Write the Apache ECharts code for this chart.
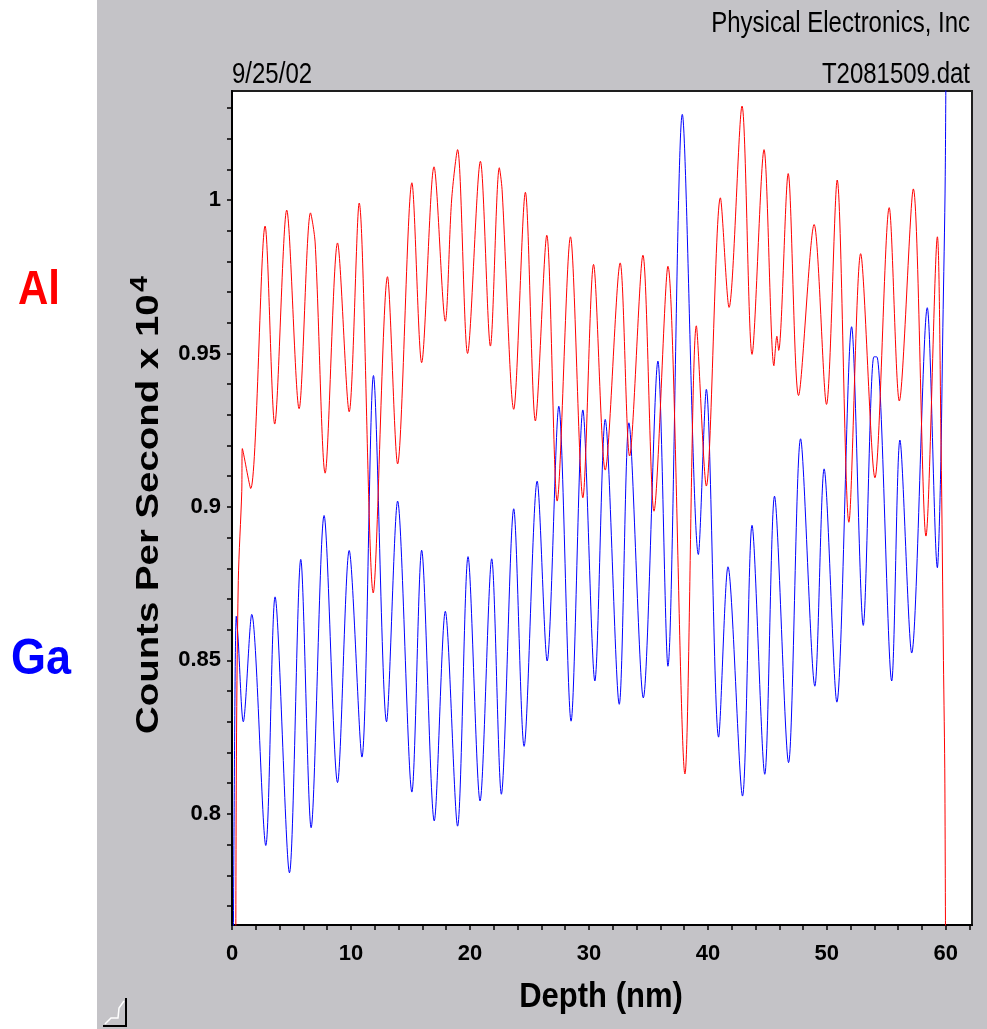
<!DOCTYPE html>
<html>
<head>
<meta charset="utf-8">
<script src="https://cdn.jsdelivr.net/npm/echarts@6/dist/echarts.min.js"></script>
<style>
  html, body { margin: 0; padding: 0; background: #ffffff; }
  #chart { width: 987px; height: 1029px; background: linear-gradient(to right, #ffffff 0px, #ffffff 97px, #c4c3c7 97px, #c4c3c7 100%); }
</style>
</head>
<body>
<div id="chart"></div>
<script>
// ---- Data ----
const alDepth = [0.3, 0.36, 0.53, 0.82, 0.87, 1.57, 2.78, 3.59, 4.6, 5.64, 6.6, 6.99, 7.83, 8.87, 9.85, 10.69, 11.87, 13.07, 13.92, 15.12, 15.94, 16.98, 17.93, 18.46, 18.96, 19.8, 20.88, 21.72, 22.47, 22.7, 23.68, 24.66, 25.5, 26.46, 27.33, 28.45, 29.49, 30.39, 31.37, 32.63, 33.42, 34.54, 35.47, 36.64, 38.07, 39.03, 39.87, 41.05, 41.78, 42.87, 43.71, 44.72, 45.55, 45.8, 45.95, 46.75, 47.62, 48.93, 49.97, 50.87, 51.85, 52.84, 54.04, 55.24, 56.09, 57.27, 58.33, 59.29, 59.6, 59.8, 59.92, 60.02];
const alCounts = [0.70, 0.811, 0.876, 0.905, 0.919, 0.906, 0.9915, 0.927, 0.9967, 0.932, 0.9958, 0.986, 0.911, 0.986, 0.931, 0.999, 0.872, 0.975, 0.914, 1.0056, 0.947, 1.0108, 0.9605, 1.0, 1.0164, 0.950, 1.0126, 0.9524, 1.0105, 1.0034, 0.9318, 1.0025, 0.928, 0.9885, 0.9019, 0.988, 0.903, 0.979, 0.912, 0.9795, 0.9166, 0.982, 0.8986, 0.9784, 0.813, 0.959, 0.9068, 1.0007, 0.965, 1.0306, 0.9497, 1.0164, 0.946, 0.9556, 0.951, 1.0086, 0.9363, 0.992, 0.9334, 1.0065, 0.895, 0.9825, 0.9095, 0.9975, 0.9345, 1.0036, 0.8905, 0.988, 0.92, 0.85, 0.81, 0.70];

const gaDepth = [0.05, 0.17, 0.36, 0.5, 0.95, 1.66, 2.84, 3.62, 4.83, 5.78, 6.65, 7.74, 8.87, 9.85, 10.92, 11.89, 12.99, 13.92, 15.12, 15.94, 17.0, 17.93, 18.96, 19.84, 20.85, 21.83, 22.64, 23.68, 24.55, 25.65, 26.49, 27.47, 28.5, 29.49, 30.5, 31.37, 32.55, 33.36, 34.57, 35.8, 36.64, 37.85, 39.2, 39.87, 40.9, 41.69, 42.91, 43.71, 44.78, 45.6, 46.78, 47.79, 48.99, 49.77, 50.84, 52.08, 53.06, 53.95, 54.2, 55.45, 56.14, 57.13, 58.44, 59.29, 59.55, 59.75, 59.95, 60.05];
const gaCounts = [0.70, 0.7955, 0.8644, 0.858, 0.830, 0.865, 0.7897, 0.8707, 0.7808, 0.8829, 0.7955, 0.8972, 0.8102, 0.8858, 0.8185, 0.9428, 0.830, 0.9019, 0.8071, 0.8859, 0.7977, 0.866, 0.796, 0.8838, 0.8042, 0.8831, 0.8064, 0.8994, 0.822, 0.9084, 0.8498, 0.9328, 0.8302, 0.9316, 0.8433, 0.9285, 0.8357, 0.9274, 0.8378, 0.9475, 0.8481, 1.0279, 0.8845, 0.9383, 0.8250, 0.8805, 0.8058, 0.894, 0.8129, 0.9035, 0.8167, 0.9222, 0.8416, 0.9124, 0.8364, 0.9587, 0.8614, 0.9489, 0.9489, 0.8433, 0.9218, 0.8524, 0.9649, 0.8802, 0.909, 0.9585, 1.0077, 1.08];

const xTickValues = [0, 2, 4, 6, 8, 10, 12, 14, 16, 18, 20, 22, 24, 26, 28, 30, 32, 34, 36, 38, 40, 42, 44, 46, 48, 50, 52, 54, 56, 58, 60, 62];
const xLabelValues = [0, 10, 20, 30, 40, 50, 60];
const yTickValues = [0.77, 0.78, 0.79, 0.80, 0.81, 0.82, 0.83, 0.84, 0.85, 0.86, 0.87, 0.88, 0.89, 0.90, 0.91, 0.92, 0.93, 0.94, 0.95, 0.96, 0.97, 0.98, 0.99, 1.00, 1.01, 1.02, 1.03];
const yLabelValues = [0.80, 0.85, 0.90, 0.95, 1.00];

const seriesNames = ['Al', 'Ga'];
const headerTexts = ['Physical Electronics, Inc', '9/25/02', 'T2081509.dat'];
const xAxisTitle = 'Depth (nm)';
const yAxisTitle = 'Counts Per Second x 10';
const yAxisTitleExp = '4';

// ---- Build ----
const zip = (xs, ys) => xs.map((x, i) => [x, ys[i]]);
const FONT = '"Liberation Sans", Arial, Helvetica, sans-serif';

const chart = echarts.init(document.getElementById('chart'), null, { renderer: 'canvas' });

const option = {
  animation: false,
  backgroundColor: 'transparent',
  grid: {
    left: 232, top: 91, right: 15, bottom: 104,
    show: true, backgroundColor: '#ffffff',
    borderColor: '#1e1e1e', borderWidth: 2
  },
  xAxis: {
    type: 'value', min: 0, max: 62.2,
    axisLine: { show: true, onZero: false, lineStyle: { color: '#000', width: 2 } },
    axisTick: { show: true, customValues: xTickValues, length: 5, inside: false, lineStyle: { color: '#000', width: 1.5 } },
    axisLabel: {
      customValues: xLabelValues, margin: 18, fontSize: 22, fontWeight: 'bold',
      color: '#000', fontFamily: FONT, formatter: v => String(Math.round(v))
    },
    splitLine: { show: false }
  },
  yAxis: {
    type: 'value', min: 0.7638, max: 1.0355,
    axisLine: { show: true, onZero: false, lineStyle: { color: '#000', width: 2 } },
    axisTick: { show: true, customValues: yTickValues, length: 5, inside: false, lineStyle: { color: '#000', width: 1.5 } },
    axisLabel: {
      customValues: yLabelValues, margin: 11, fontSize: 22, fontWeight: 'bold',
      color: '#000', fontFamily: FONT, formatter: v => String(+v.toFixed(2))
    },
    splitLine: { show: false }
  },
  series: [
    {
      name: seriesNames[1], type: 'line', data: zip(gaDepth, gaCounts),
      showSymbol: false, smooth: 0.3, clip: true,
      lineStyle: { color: '#0000ff', width: 1 }, z: 2
    },
    {
      name: seriesNames[0], type: 'line', data: zip(alDepth, alCounts),
      showSymbol: false, smooth: 0.3, clip: true,
      lineStyle: { color: '#ff0000', width: 1 }, z: 3
    }
  ],
  graphic: [
    { type: 'text', x: 970, y: 24, scaleY: 1.2,
      style: { text: headerTexts[0], fill: '#000', fontSize: 24, fontFamily: FONT, align: 'right', verticalAlign: 'middle' } },
    { type: 'text', x: 232, y: 75, scaleY: 1.2,
      style: { text: headerTexts[1], fill: '#000', fontSize: 24, fontFamily: FONT, align: 'left', verticalAlign: 'middle' } },
    { type: 'text', x: 970, y: 75, scaleY: 1.2,
      style: { text: headerTexts[2], fill: '#000', fontSize: 24, fontFamily: FONT, align: 'right', verticalAlign: 'middle' } },
    { type: 'text', x: 39, y: 291, scaleY: 1.13,
      style: { text: seriesNames[0], fill: '#ff0000', fontSize: 42, fontWeight: 'bold', fontFamily: FONT, align: 'center', verticalAlign: 'middle' } },
    { type: 'text', x: 41, y: 660, scaleY: 1.1,
      style: { text: seriesNames[1], fill: '#0000ff', fontSize: 45, fontWeight: 'bold', fontFamily: FONT, align: 'center', verticalAlign: 'middle' } },
    { type: 'text', x: 601, y: 997, scaleY: 1.15,
      style: { text: xAxisTitle, fill: '#000', fontSize: 31, fontWeight: 'bold', fontFamily: FONT, align: 'center', verticalAlign: 'middle' } },
    { type: 'text', x: 149, y: 505, rotation: Math.PI / 2, scaleX: 1.2,
      style: {
        text: '{m|' + yAxisTitle + '}{s|' + yAxisTitleExp + '}',
        align: 'center', verticalAlign: 'middle',
        rich: {
          m: { fill: '#000', fontSize: 32, fontWeight: 'bold', fontFamily: FONT, lineHeight: 34 },
          s: { fill: '#000', fontSize: 24, fontWeight: 'bold', fontFamily: FONT, verticalAlign: 'bottom', lineHeight: 24, padding: [0, 0, 14, 2] }
        }
      } },
    { type: 'polyline', shape: { points: [[103, 1026], [126, 1026], [126, 998]] },
      style: { stroke: '#000', lineWidth: 2, fill: null } },
    { type: 'polyline', shape: { points: [[105, 1024], [111, 1018], [118, 1018], [119, 1008], [124, 1001]] },
      style: { stroke: '#ffffff', lineWidth: 1.5, fill: null } }
  ]
};

chart.setOption(option);
</script>
</body>
</html>
